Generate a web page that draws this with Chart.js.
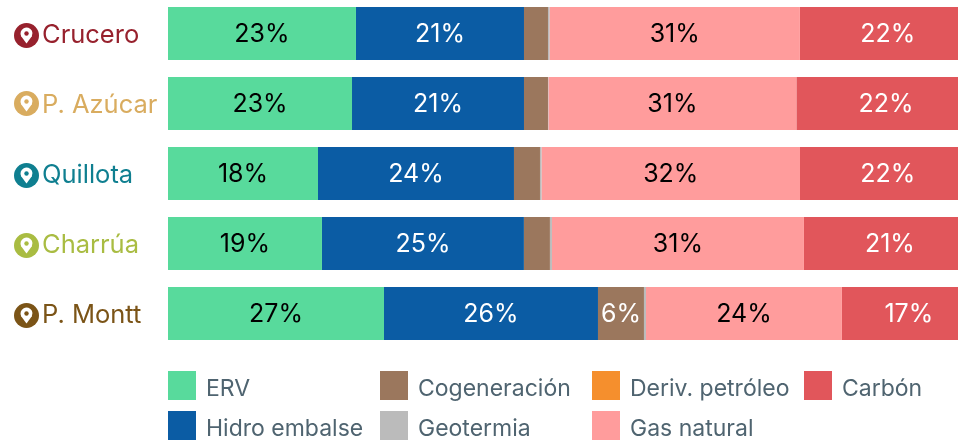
<!DOCTYPE html>
<html><head><meta charset="utf-8">
<style>html,body{margin:0;padding:0;background:#fff;overflow:hidden}#w{position:relative;width:958px;height:440px;overflow:hidden}canvas{display:block;position:absolute;left:0;top:-2px}</style>
<script src="https://cdn.jsdelivr.net/npm/chart.js@4"></script></head>
<body><div id="w"><canvas id="c" width="958" height="442"></canvas></div>
<script>
const categories=["Crucero","P. Azúcar","Quillota","Charrúa","P. Montt"];
const categoryColors=["#97212D","#D9AC5F","#0F7F90","#A9BC42","#7B5417"];
const seriesNames=["ERV","Hidro embalse","Cogeneración","Geotermia","Deriv. petróleo","Gas natural","Carbón"];
const seriesColors=["#58DA9C","#0B5CA4","#9B775D","#BBBBBB","#F58F2D","#FF9C9C","#E1565B"];
const labelColors=["#000","#fff","#fff","#fff","#fff","#000","#fff"];
const erv=[23.27,22.78,18.57,19.06,26.74];
const hidro=[20.8,21.29,24.26,25.0,26.49];
const cogeneracion=[2.97,2.97,3.22,3.22,5.69];
const geotermia=[0.19,0.05,0.19,0.25,0.25];
const derivPetroleo=[0,0,0,0,0];
const gasNatural=[31.0,30.7,32.0,31.2,24.26];
const carbon=[21.77,22.2,21.76,21.27,16.57];
const seriesValues=[erv,hidro,cogeneracion,geotermia,derivPetroleo,gasNatural,carbon];
const ervLabels=["23%","23%","18%","19%","27%"];
const hidroLabels=["21%","21%","24%","25%","26%"];
const cogLabels=["","","","","6%"];
const gasLabels=["31%","31%","32%","31%","24%"];
const carbonLabels=["22%","22%","22%","21%","17%"];
const emptyLabels=["","","","",""];
const seriesLabels=[ervLabels,hidroLabels,cogLabels,emptyLabels,emptyLabels,gasLabels,carbonLabels];
const legendOrder=[0,2,4,6,1,3,5];
const pinOffsets=[2,0,2,2,2];
const FONT='Inter, sans-serif';

const barText={id:'barText',afterDatasetsDraw(ch){
  const g=ch.ctx;g.save();g.textAlign='center';g.textBaseline='middle';g.font='25px '+FONT;
  ch.data.datasets.forEach((d,i)=>{ch.getDatasetMeta(i).data.forEach((el,j)=>{
    const t=seriesLabels[i][j];if(!t)return;
    const c=el.getCenterPoint();g.fillStyle=labelColors[i];g.fillText(t,c.x,c.y+0.5);
  });});g.restore();}};
const pins={id:'pins',afterDraw(ch){
  const g=ch.ctx,y=ch.scales.y;g.save();
  categories.forEach((_,j)=>{const cy=y.getPixelForValue(j)+pinOffsets[j],cx=26.5;
    g.fillStyle=categoryColors[j];g.beginPath();g.arc(cx,cy,12.5,0,7);g.fill();
    g.fillStyle='#fff';g.beginPath();g.arc(cx,cy-2,6,Math.PI*0.85,Math.PI*0.15);g.lineTo(cx,cy+8);g.closePath();g.fill();
    g.fillStyle=categoryColors[j];g.beginPath();g.arc(cx,cy-2,2.2,0,7);g.fill();
  });g.restore();}};
const legendBox={id:'legendBox',afterDraw(ch){
  const g=ch.ctx;g.save();g.font='23px '+FONT;g.textBaseline='middle';g.textAlign='left';
  const xs=[168,380,592,804],ys=[373,413];
  legendOrder.forEach((s,k)=>{const col=k<4?k:k-4,row=k<4?0:1;
    g.fillStyle=seriesColors[s];g.fillRect(xs[col],ys[row],28,29);
    g.fillStyle='#4F6470';g.fillText(seriesNames[s],xs[col]+38,ys[row]+18);
  });g.restore();}};

new Chart(document.getElementById('c'),{type:'bar',
 data:{labels:categories,datasets:seriesValues.map((v,i)=>({label:seriesNames[i],data:v,backgroundColor:seriesColors[i],borderWidth:0,categoryPercentage:1,barPercentage:53/70}))},
 options:{indexAxis:'y',responsive:false,animation:false,
  layout:{padding:{left:42,right:0,top:0.5,bottom:91.5}},
  plugins:{legend:{display:false},tooltip:{enabled:false}},
  scales:{
   x:{stacked:true,min:0,max:97.8,display:false},
   y:{stacked:true,position:'left',afterFit(s){s.width=126;s.paddingTop=0;s.paddingBottom=0;},grid:{display:false},border:{display:false},
      ticks:{crossAlign:'far',padding:0,labelOffset:1.5,autoSkip:false,font:{family:FONT,size:25.5},color:c=>categoryColors[c.index]}}
  }},
 plugins:[barText,pins,legendBox]
});
</script></body></html>
